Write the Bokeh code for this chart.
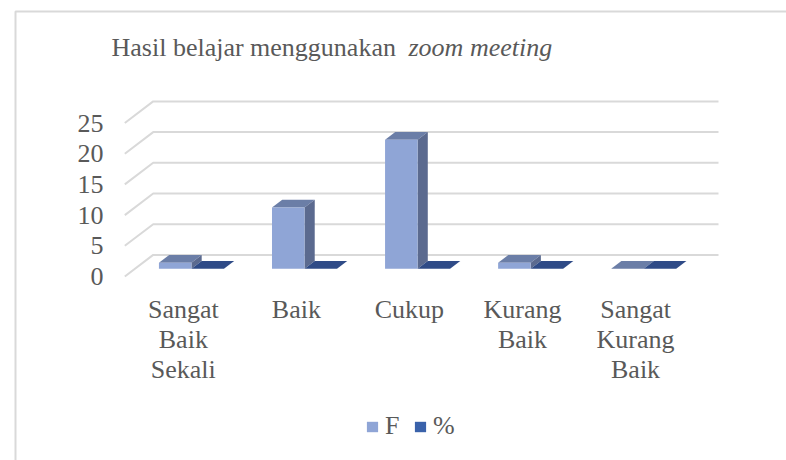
from bokeh.plotting import figure
from bokeh.models import Range1d, Legend, LegendItem
from bokeh.core.properties import value
from bokeh.embed import file_html
from bokeh.resources import INLINE

# ---------------- data ----------------
categories = ["Sangat\nBaik\nSekali", "Baik", "Cukup", "Kurang\nBaik", "Sangat\nKurang\nBaik"]
f_values = [1, 10, 21, 1, 0]
pct_values = [0, 0, 0, 0, 0]
y_ticks = [0, 5, 10, 15, 20, 25]
series_names = ["F", "%"]
title_regular = "Hasil belajar menggunakan "
title_italic = "zoom meeting"

# ---------------- layout constants ----------------
W, H = 786, 460
CAT_PX = 113.06       # pixels per category
X_LEFT_PX = 124.3     # front-left corner of plot area
UNIT_PX = 6.14        # pixels per value unit
ZERO_PX = 276.0       # front-plane zero line
DEPTH_DX = 28.4 / CAT_PX
DEPTH_DY = 21.6 / UNIT_PX
BAR_W = 0.2875
D_FRONT = 0.356
D_BACK = 0.716
FONT = "Liberation Serif"
TXT = "#595959"
GRID = "#D9D9D9"

x0 = -0.5 - X_LEFT_PX / CAT_PX
x1 = x0 + W / CAT_PX
y_top = ZERO_PX / UNIT_PX
y_bot = y_top - H / UNIT_PX


def px_x(sx):
    return x0 + sx / CAT_PX


def px_y(sy):
    return y_top - sy / UNIT_PX


def sh(x, y, d):
    return x + d * DEPTH_DX, y + d * DEPTH_DY


p = figure(width=W, height=H, x_range=Range1d(x0, x1), y_range=Range1d(y_bot, y_top),
           output_backend="svg", toolbar_location=None, min_border=0,
           x_axis_type=None, y_axis_type=None)
p.outline_line_color = None
p.background_fill_color = "white"
p.border_fill_color = "white"

# chart border
p.quad(left=[px_x(15)], right=[px_x(900)], top=[px_y(11)], bottom=[px_y(600)],
       fill_color=None, line_color=GRID, line_width=2)

# gridlines (back wall + left wall diagonals)
n = len(categories)
gx, gy = [], []
for t in y_ticks:
    bx0, by = sh(-0.5, t, 1.0)
    bx1, _ = sh(n - 0.5, t, 1.0)
    gx.append([-0.5, bx0, bx1])
    gy.append([t, by, by])
p.multi_line(xs=gx, ys=gy, line_color=GRID, line_width=2)


def faces(offset, vals):
    fr_l, fr_r, fr_b, fr_t = [], [], [], []
    top_x, top_y, side_x, side_y = [], [], [], []
    for i, v in enumerate(vals):
        left = i + offset
        right = left + BAR_W
        fl, fb = sh(left, 0, D_FRONT)
        fr, _ = sh(right, 0, D_FRONT)
        bl, bb = sh(left, 0, D_BACK)
        br, _ = sh(right, 0, D_BACK)
        ft, bt = fb + v, bb + v
        fr_l.append(fl); fr_r.append(fr); fr_b.append(fb); fr_t.append(ft)
        top_x.append([fl, fr, br, bl]); top_y.append([ft, ft, bt, bt])
        side_x.append([fr, br, br, fr]); side_y.append([fb, bb, bt, ft])
    return fr_l, fr_r, fr_b, fr_t, top_x, top_y, side_x, side_y


# F series
l, r, b, t, tx, ty, sx_, sy_ = faces(-BAR_W, f_values)
p.patches(xs=tx, ys=ty, fill_color="#6B7EA7", line_color=None)
p.patches(xs=sx_, ys=sy_, fill_color="#5B6A8F", line_color=None)
f_front = p.quad(left=l, right=r, bottom=b, top=t, fill_color="#8FA5D6", line_color=None)

# % series
l, r, b, t, tx, ty, sx_, sy_ = faces(0.0, pct_values)
p.patches(xs=tx, ys=ty, fill_color="#2F4B87", line_color=None)
p.patches(xs=sx_, ys=sy_, fill_color="#24396A", line_color=None)
p_front = p.quad(left=l, right=r, bottom=b, top=t, fill_color="#3A62AA", line_color=None)

# y tick labels
p.text(x=[px_x(103)] * len(y_ticks), y=y_ticks, text=[str(v) for v in y_ticks],
       text_align="right", text_baseline="middle", text_font=value(FONT),
       text_font_size="26px", text_color=TXT)

# category labels
p.text(x=list(range(n)), y=[px_y(294)] * n, text=categories, x_offset=2,
       text_align="center", text_baseline="top", text_line_height=1.04,
       text_font=value(FONT), text_font_size="26px", text_color=TXT)

# title
p.text(x=[px_x(111)], y=[px_y(47)], text=[title_regular], text_align="left",
       text_baseline="alphabetic", text_font=value(FONT), text_font_size="26px",
       text_color=TXT)
p.text(x=[px_x(408)], y=[px_y(47)], text=[title_italic], text_align="left",
       text_baseline="alphabetic", text_font=value(FONT), text_font_size="26px",
       text_font_style="italic", text_color=TXT)

legend = Legend(items=[LegendItem(label=series_names[0], renderers=[f_front]),
                       LegendItem(label=series_names[1], renderers=[p_front])],
                orientation="horizontal", location=(365, 19), padding=0, margin=0,
                spacing=8, glyph_width=14, glyph_height=13, label_standoff=6,
                label_text_font=FONT, label_text_font_size="26px",
                label_text_color=TXT, border_line_color=None,
                background_fill_alpha=0)
p.add_layout(legend)

open("out.html", "w").write(file_html(p, INLINE))
